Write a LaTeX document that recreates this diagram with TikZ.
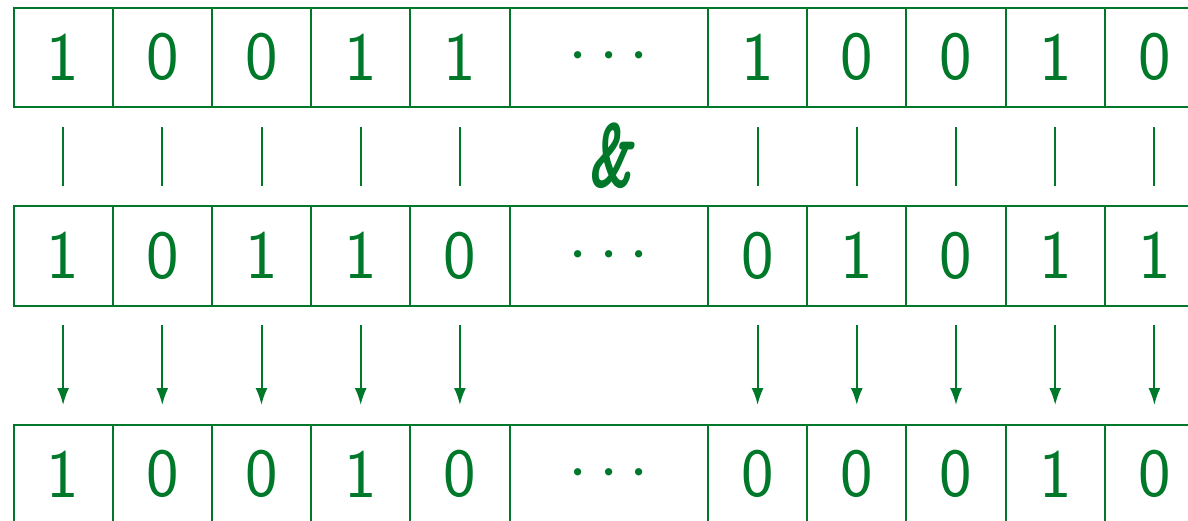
\documentclass[tikz,border=0pt]{standalone}
\usepackage{graphicx}
\usepackage{fontspec}
\newfontfamily\ampfont{lmmonolt10-boldoblique.otf}
\usetikzlibrary{arrows.meta}
\definecolor{dg}{RGB}{0,120,42}
\newcommand{\mydots}{\scalebox{6.9}{\fontsize{10}{12}\selectfont$\cdots$}}
\begin{document}
\begin{tikzpicture}[x=1pt,y=-1pt,
  cell/.style={draw=dg,line width=2pt,minimum width=99.2pt,minimum height=99.5pt,
    inner sep=0pt,outer sep=0pt,anchor=north west,text=dg,font=\fontsize{69}{69}\selectfont\sffamily},
  wide/.style={cell,minimum width=198.5pt},
  bar/.style={draw=dg,line width=2pt,shorten <=20pt,shorten >=20pt},
  arr/.style={draw=dg,line width=2pt,shorten <=19.5pt,shorten >=19.5pt,-{Latex[length=17pt,width=12pt]}},
  amp/.style={text=dg,inner sep=0pt,font=\fontsize{104}{104}\selectfont\ampfont}]
\useasboundingbox (0,0) rectangle (1188,520);
\clip (0,0) rectangle (1188,520);
% row 1
\foreach \d [count=\i] in {1,0,0,1,1} \node[cell] (a\i) at ({13.5+(\i-1)*99.2},7.5) {\d};
\node[wide] (a6) at (509.5,7.5) {\mydots};
\foreach \d [count=\i from 7] in {1,0,0,1,0} \node[cell] (a\i) at ({708+(\i-7)*99.2},7.5) {\d};
% row 2
\foreach \d [count=\i] in {1,0,1,1,0} \node[cell] (b\i) at ({13.5+(\i-1)*99.2},206) {\d};
\node[wide] (b6) at (509.5,206) {\mydots};
\foreach \d [count=\i from 7] in {0,1,0,1,1} \node[cell] (b\i) at ({708+(\i-7)*99.2},206) {\d};
% row 3
\foreach \d [count=\i] in {1,0,0,1,0} \node[cell] (c\i) at ({13.5+(\i-1)*99.2},424.5) {\d};
\node[wide] (c6) at (509.5,424.5) {\mydots};
\foreach \d [count=\i from 7] in {0,0,0,1,0} \node[cell] (c\i) at ({708+(\i-7)*99.2},424.5) {\d};
% connectors
\foreach \i in {1,2,3,4,5,7,8,9,10,11} {
  \draw[bar] (a\i) -- (b\i);
  \draw[arr] (b\i) -- (c\i);
}
\node[amp] (andop) at (610,155.5) {\scalebox{0.8}[1]{\&}};
\end{tikzpicture}
\end{document}
